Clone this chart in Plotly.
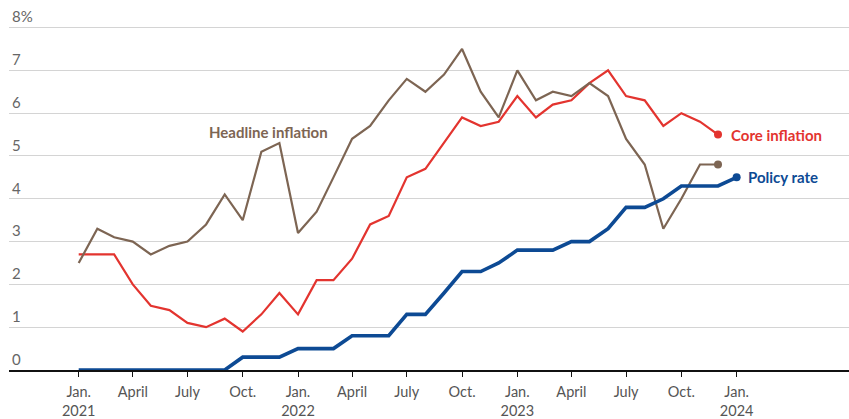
import plotly.graph_objects as go
import pandas as pd

months = pd.date_range("2021-01-01", "2024-01-01", freq="MS").strftime("%Y-%m-%d").tolist()

headline = [2.5, 3.3, 3.1, 3.0, 2.7, 2.9, 3.0, 3.4, 4.1, 3.5, 5.1, 5.3,
            3.2, 3.7, 4.5, 5.4, 5.7, 6.3, 6.8, 6.5, 6.9, 7.5, 6.5, 5.9,
            7.0, 6.3, 6.5, 6.4, 6.7, 6.4, 5.4, 4.8, 3.3, 4.0, 4.8, 4.8]
core = [2.7, 2.7, 2.7, 2.0, 1.5, 1.4, 1.1, 1.0, 1.2, 0.9, 1.3, 1.8,
        1.3, 2.1, 2.1, 2.6, 3.4, 3.6, 4.5, 4.7, 5.3, 5.9, 5.7, 5.8,
        6.4, 5.9, 6.2, 6.3, 6.7, 7.0, 6.4, 6.3, 5.7, 6.0, 5.8, 5.5]
policy = [0, 0, 0, 0, 0, 0, 0, 0, 0, 0.3, 0.3, 0.3,
          0.5, 0.5, 0.5, 0.8, 0.8, 0.8, 1.3, 1.3, 1.8, 2.3, 2.3, 2.5,
          2.8, 2.8, 2.8, 3.0, 3.0, 3.3, 3.8, 3.8, 4.0, 4.3, 4.3, 4.3, 4.5]

x_tickvals = ["2021-01-01", "2021-04-01", "2021-07-01", "2021-10-01",
              "2022-01-01", "2022-04-01", "2022-07-01", "2022-10-01",
              "2023-01-01", "2023-04-01", "2023-07-01", "2023-10-01",
              "2024-01-01"]
x_ticktext = ["Jan.<br>2021", "April", "July", "Oct.",
              "Jan.<br>2022", "April", "July", "Oct.",
              "Jan.<br>2023", "April", "July", "Oct.",
              "Jan.<br>2024"]
y_tickvals = [0, 1, 2, 3, 4, 5, 6, 7, 8]
y_ticktext = ["0", "1", "2", "3", "4", "5", "6", "7", "8%"]

RED = "#e3342f"
BROWN = "#7d6553"
NAVY = "#0d4a94"

fig = go.Figure()
fig.add_trace(go.Scatter(x=months[:len(core)], y=core, mode="lines",
                         line=dict(color=RED, width=2.2), cliponaxis=False,
                         hoverinfo="skip"))
fig.add_trace(go.Scatter(x=months[:len(headline)], y=headline, mode="lines",
                         line=dict(color=BROWN, width=2.2), cliponaxis=False,
                         hoverinfo="skip"))
fig.add_trace(go.Scatter(x=months[:len(policy)], y=policy, mode="lines",
                         line=dict(color=NAVY, width=3.6), cliponaxis=False,
                         hoverinfo="skip"))
# end markers
fig.add_trace(go.Scatter(x=[months[len(core) - 1]], y=[core[-1]], mode="markers",
                         marker=dict(color=RED, size=8), cliponaxis=False))
fig.add_trace(go.Scatter(x=[months[len(headline) - 1]], y=[headline[-1]], mode="markers",
                         marker=dict(color=BROWN, size=8), cliponaxis=False))
fig.add_trace(go.Scatter(x=[months[len(policy) - 1]], y=[policy[-1]], mode="markers",
                         marker=dict(color=NAVY, size=8), cliponaxis=False))

lab_font = dict(family="Lato", size=15)
fig.add_annotation(x=months[len(core) - 1], y=core[-1], text="<b>Core inflation</b>",
                   showarrow=False, xanchor="left", yanchor="middle", xshift=11,
                   font=dict(color=RED, **lab_font))
fig.add_annotation(x=months[len(policy) - 1], y=policy[-1], text="<b>Policy rate</b>",
                   showarrow=False, xanchor="left", yanchor="middle", xshift=9,
                   font=dict(color=NAVY, **lab_font))
fig.add_annotation(x="2021-08-03", y=5.57, text="<b>Headline inflation</b>",
                   showarrow=False, xanchor="left", yanchor="middle",
                   font=dict(color=BROWN, **lab_font))

fig.update_layout(
    width=849, height=419,
    margin=dict(l=9, r=0, t=1, b=49),
    paper_bgcolor="white", plot_bgcolor="white",
    showlegend=False,
    font=dict(family="Lato", color="#555555", size=14),
    xaxis=dict(
        type="date",
        range=["2020-09-07", "2024-07-06"],
        tickvals=x_tickvals, ticktext=x_ticktext,
        showgrid=False, zeroline=False,
        showline=True, linecolor="#111111", linewidth=1.5,
        ticks="outside", ticklen=5, tickwidth=1.3, tickcolor="#111111",
        ticklabelstandoff=3,
        tickfont=dict(family="Lato", size=14.5, color="#555555"),
    ),
    yaxis=dict(
        range=[0, 8.62],
        tickvals=y_tickvals, ticktext=y_ticktext,
        showgrid=True, gridcolor="#d4d4d4", gridwidth=1,
        zeroline=False, showline=False, ticks="",
        ticklabelposition="inside top",
        tickfont=dict(family="Lato", size=15, color="#666666"),
        fixedrange=True,
    ),
)

fig.write_html("out.html")
